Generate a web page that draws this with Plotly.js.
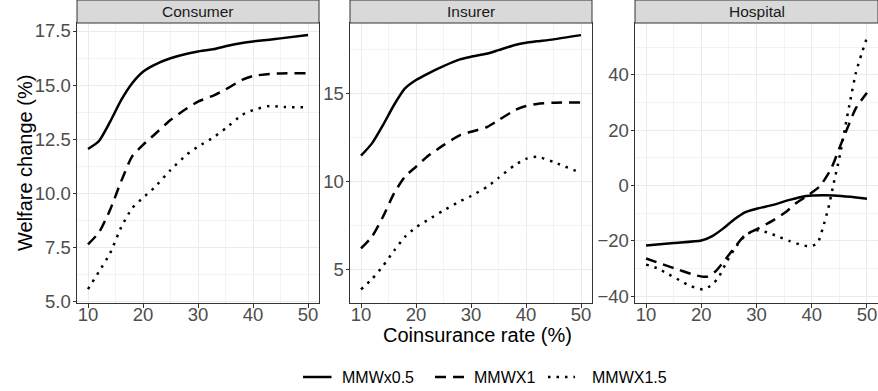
<!DOCTYPE html>
<html>
<head>
<meta charset="utf-8">
<script src="https://cdn.plot.ly/plotly-3.0.1.min.js"></script>
<style>html,body{margin:0;padding:0;background:#fff;}#chart{width:878px;height:391px;}</style>
</head>
<body>
<div id="chart"></div>
<script>
// ---- data ----
const panels = ["Consumer", "Insurer", "Hospital"];
const seriesNames = ["MMWx0.5", "MMWX1", "MMWX1.5"];

const consumerX = [10,12,14,16,18,20,22,25,28,30,33,35,38,40,43,45,50];
const consumerA = [12.05,12.42,13.3,14.3,15.08,15.62,15.93,16.24,16.45,16.55,16.67,16.8,16.95,17.02,17.1,17.16,17.32];
const consumerB = [7.65,8.2,9.23,10.54,11.7,12.24,12.7,13.39,13.93,14.24,14.54,14.8,15.24,15.42,15.52,15.54,15.55];
const consumerC = [5.58,6.39,7.23,8.42,9.31,9.8,10.25,11.08,11.8,12.16,12.62,13.0,13.62,13.85,14.04,14.0,13.97];

const insurerX = [10,12,14,16,18,20,22,25,28,30,33,35,38,40,42,45,50];
const insurerA = [11.46,12.16,13.2,14.34,15.28,15.76,16.1,16.55,16.93,17.08,17.27,17.46,17.75,17.88,17.96,18.07,18.31];
const insurerB = [6.19,6.86,7.99,9.32,10.27,10.83,11.4,12.06,12.63,12.82,13.1,13.48,14.05,14.28,14.4,14.47,14.49];
const insurerC = [3.86,4.45,5.19,6.06,6.85,7.39,7.78,8.35,8.87,9.17,9.71,10.2,10.93,11.28,11.4,11.1,10.48];

const hospitalXA = [10,15,20,22,24,26,28,30,33,36,39,42,44,47,50];
const hospitalA = [-21.7,-20.8,-19.9,-18.3,-15.5,-12.2,-9.6,-8.4,-7.0,-5.2,-3.8,-3.5,-3.6,-4.1,-4.8];
const hospitalXB = [10,13,16,19,21,22.5,24,26,28,30,33,35.5,37,39.5,41.5,43.5,45,46.5,48,50];
const hospitalB = [-26.4,-28.5,-30.5,-32.5,-33,-31.2,-27.7,-22.5,-17.8,-15.9,-12.6,-9.3,-6.6,-3.3,-0.2,6,13.5,21,28,33.6];
const hospitalXC = [10,12,14,16,18,20.3,22,23.2,24.5,26,28,30,32,34,36,38,39.5,41,42,43,44,45,46,47,48,49,50];
const hospitalC = [-28.6,-29.9,-32,-34.2,-36.3,-37.6,-35.8,-33,-28,-23,-18,-16.2,-17.0,-18.5,-20.1,-21.4,-22,-21,-15.4,-8.2,1.0,10,20.5,31,40.8,47.5,53.5];

const xTicks = [10,20,30,40,50];

// ---- styles ----
const dashes = ["solid", "11px,7px", "2.5px,6px"];
const panelData = [
  [[consumerX, consumerA], [consumerX, consumerB], [consumerX, consumerC]],
  [[insurerX, insurerA], [insurerX, insurerB], [insurerX, insurerC]],
  [[hospitalXA, hospitalA], [hospitalXB, hospitalB], [hospitalXC, hospitalC]]
];

const traces = [];
panelData.forEach((p, pi) => {
  p.forEach((s, si) => {
    traces.push({
      x: s[0], y: s[1],
      type: "scatter", mode: "lines",
      name: seriesNames[si],
      showlegend: false,
      xaxis: pi === 0 ? "x" : "x" + (pi + 1),
      yaxis: pi === 0 ? "y" : "y" + (pi + 1),
      line: {color: "#000000", width: 2.5, dash: dashes[si], shape: "spline", smoothing: 0.6},
      hoverinfo: "skip"
    });
  });
});

const F = "Liberation Sans, Arial, sans-serif";
const L = 77, T = 23, PW = 801, PH = 280;
const px2x = p => (p - L) / PW;
const py2y = p => (T + PH - p) / PH;

const domains = [[0, 242/801], [273/801, 515/801], [558/801, 1]];
const yRanges = [[4.94, 17.87], [3.09, 19.0], [-42.5, 58.8]];
const yTick = [{tick0: 5, dtick: 2.5, minor: 1.25, fmt: ".1f"}, {tick0: 5, dtick: 5, minor: 2.5, fmt: ""}, {tick0: 0, dtick: 20, minor: 10, fmt: ""}];

const layout = {
  width: 878, height: 391,
  margin: {l: L, r: 0, t: T, b: 391 - T - PH},
  paper_bgcolor: "#ffffff", plot_bgcolor: "#ffffff",
  font: {family: F, color: "#000000"},
  showlegend: false,
  shapes: [], annotations: []
};

panels.forEach((name, i) => {
  const xa = i === 0 ? "xaxis" : "xaxis" + (i + 1);
  const ya = i === 0 ? "yaxis" : "yaxis" + (i + 1);
  const xr = i === 0 ? "x" : "x" + (i + 1);
  const yr = i === 0 ? "y" : "y" + (i + 1);
  layout[xa] = {
    domain: domains[i], anchor: yr, range: [8, 52],
    tickmode: "array", tickvals: xTicks, ticktext: xTicks.map(String),
    ticks: "outside", ticklen: 3.5, tickcolor: "#333333", tickwidth: 1,
    ticklabelstandoff: -9,
    tickfont: {size: 18.5, color: "#4D4D4D", family: F},
    showgrid: true, gridcolor: "#EBEBEB", gridwidth: 1,
    minor: {tickmode: "array", tickvals: [15,25,35,45], showgrid: true, gridcolor: "#EBEBEB", gridwidth: 0.6},
    showline: true, mirror: true, linecolor: "#333333", linewidth: 1,
    zeroline: false, fixedrange: true
  };
  layout[ya] = {
    domain: [0, 1], anchor: xr, range: yRanges[i],
    tickmode: "linear", tick0: yTick[i].tick0, dtick: yTick[i].dtick,
    tickformat: yTick[i].fmt,
    ticks: "outside", ticklen: 3.5, tickcolor: "#333333", tickwidth: 1,
    ticklabelstandoff: -2,
    tickfont: {size: 18.5, color: "#4D4D4D", family: F},
    showgrid: true, gridcolor: "#EBEBEB", gridwidth: 1,
    minor: {tick0: yTick[i].tick0, dtick: yTick[i].minor, showgrid: true, gridcolor: "#EBEBEB", gridwidth: 0.6},
    showline: true, mirror: true, linecolor: "#333333", linewidth: 1,
    zeroline: false, fixedrange: true
  };
  layout.shapes.push({
    type: "rect", xref: xr + " domain", yref: "paper",
    x0: 0, x1: 1, y0: 1, y1: 1 + 23/PH,
    fillcolor: "#D9D9D9", line: {color: "#333333", width: 1}, layer: "above"
  });
  layout.annotations.push({
    text: name, xref: xr + " domain", yref: "paper",
    x: 0.5, y: 1 + 11.5/PH, xanchor: "center", yanchor: "middle",
    showarrow: false, font: {size: 15.5, color: "#1A1A1A", family: F}
  });
});

layout.annotations.push({
  text: "Coinsurance rate (%)", xref: "paper", yref: "paper",
  x: 0.5, y: py2y(335), xanchor: "center", yanchor: "middle",
  showarrow: false, font: {size: 20, color: "#000000", family: F}
});
layout.annotations.push({
  text: "Welfare change (%)", xref: "paper", yref: "paper",
  x: px2x(25), y: 0.5, xanchor: "center", yanchor: "middle", textangle: -90,
  showarrow: false, font: {size: 20, color: "#000000", family: F}
});

// ---- legend (drawn manually) ----
const legendKeys = [[303, 331.5, 340], [435, 465, 472], [548, 575, 590]];
const legendY = 377;
seriesNames.forEach((nm, i) => {
  const k = legendKeys[i];
  layout.shapes.push({
    type: "line", xref: "paper", yref: "paper",
    x0: px2x(k[0]), x1: px2x(k[1]), y0: py2y(legendY), y1: py2y(legendY),
    line: {color: "#000000", width: 2.5, dash: dashes[i]}
  });
  layout.annotations.push({
    text: nm, xref: "paper", yref: "paper",
    x: px2x(k[2]), y: py2y(legendY), xanchor: "left", yanchor: "middle",
    showarrow: false, font: {size: 16, color: "#000000", family: F}
  });
});

Plotly.newPlot("chart", traces, layout, {staticPlot: true, displayModeBar: false});
</script>
</body>
</html>
